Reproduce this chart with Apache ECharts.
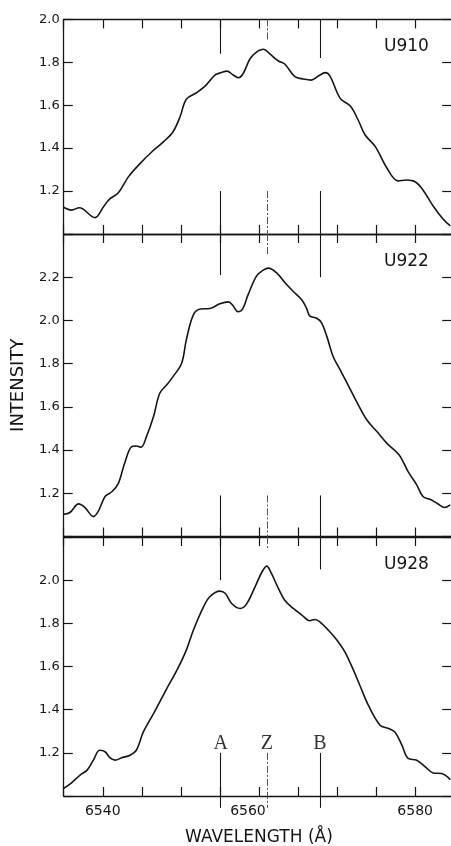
<!DOCTYPE html>
<html>
<head>
<meta charset="utf-8">
<script src="https://cdn.jsdelivr.net/npm/echarts@6/dist/echarts.min.js"></script>
<style>
html,body{margin:0;padding:0;background:#fff;}
#chart{width:451px;height:846px;}
</style>
</head>
<body>
<div id="chart"></div>
<script>
// ---- data ----
const panelNames = ['U910', 'U922', 'U928'];
const xTickLabels = [6540, 6560, 6580];

const lam910 = [6535.0, 6536.0, 6537.0, 6539.0, 6540.1, 6540.9, 6542.0, 6543.3, 6544.8, 6546.3, 6547.8, 6549.0, 6549.9, 6550.7, 6552.0, 6553.1, 6554.4, 6555.2, 6555.9, 6556.7, 6557.4, 6558.0, 6558.9, 6559.9, 6560.6, 6561.4, 6562.5, 6563.3, 6564.6, 6565.7, 6566.7, 6567.6, 6568.5, 6569.1, 6570.4, 6571.7, 6572.7, 6573.6, 6574.9, 6576.4, 6577.8, 6578.9, 6580.0, 6581.0, 6582.3, 6583.6, 6584.5];
const val910 = [1.124, 1.111, 1.122, 1.076, 1.127, 1.163, 1.192, 1.267, 1.329, 1.383, 1.430, 1.476, 1.546, 1.628, 1.658, 1.689, 1.741, 1.752, 1.759, 1.741, 1.728, 1.749, 1.819, 1.853, 1.861, 1.839, 1.806, 1.792, 1.733, 1.722, 1.717, 1.736, 1.752, 1.736, 1.632, 1.596, 1.531, 1.461, 1.407, 1.306, 1.247, 1.251, 1.243, 1.205, 1.130, 1.068, 1.037];

const lam922 = [6535.0, 6535.8, 6536.9, 6537.7, 6538.8, 6539.4, 6540.3, 6541.2, 6542.0, 6542.8, 6543.7, 6544.3, 6544.9, 6545.6, 6546.5, 6547.3, 6548.2, 6549.0, 6550.1, 6550.7, 6551.6, 6552.5, 6553.7, 6555.0, 6556.1, 6556.7, 6557.3, 6557.9, 6558.6, 6559.7, 6560.6, 6561.2, 6562.3, 6563.4, 6564.4, 6565.5, 6566.1, 6566.5, 6567.4, 6568.0, 6568.7, 6569.5, 6570.4, 6571.4, 6572.5, 6573.8, 6575.1, 6576.4, 6577.4, 6578.1, 6579.1, 6580.2, 6581.0, 6581.9, 6582.8, 6583.8, 6584.5];
const val922 = [1.103, 1.111, 1.151, 1.135, 1.092, 1.115, 1.185, 1.208, 1.246, 1.339, 1.416, 1.419, 1.413, 1.462, 1.555, 1.663, 1.702, 1.740, 1.802, 1.910, 2.026, 2.053, 2.055, 2.077, 2.086, 2.067, 2.040, 2.052, 2.118, 2.206, 2.234, 2.242, 2.219, 2.172, 2.134, 2.095, 2.056, 2.021, 2.010, 1.990, 1.925, 1.833, 1.771, 1.702, 1.624, 1.540, 1.486, 1.431, 1.398, 1.370, 1.300, 1.239, 1.185, 1.172, 1.154, 1.134, 1.146];

const lam928 = [6535.0, 6536.0, 6537.1, 6538.0, 6538.8, 6539.6, 6540.3, 6540.9, 6541.6, 6542.4, 6543.5, 6544.3, 6545.2, 6546.5, 6548.2, 6549.5, 6550.7, 6551.6, 6552.9, 6553.7, 6555.0, 6555.7, 6556.5, 6557.6, 6558.4, 6559.5, 6560.4, 6561.0, 6561.6, 6562.5, 6563.3, 6564.4, 6565.5, 6566.5, 6567.2, 6567.8, 6568.9, 6570.0, 6571.0, 6572.1, 6572.9, 6574.0, 6575.5, 6576.6, 6577.4, 6578.3, 6579.1, 6580.2, 6581.3, 6582.3, 6583.4, 6584.5];
const val928 = [1.035, 1.061, 1.097, 1.120, 1.166, 1.212, 1.205, 1.178, 1.166, 1.177, 1.189, 1.212, 1.297, 1.382, 1.498, 1.583, 1.676, 1.768, 1.876, 1.923, 1.949, 1.938, 1.892, 1.869, 1.889, 1.969, 2.039, 2.065, 2.031, 1.961, 1.907, 1.869, 1.838, 1.812, 1.818, 1.807, 1.768, 1.722, 1.668, 1.583, 1.514, 1.421, 1.328, 1.313, 1.297, 1.236, 1.174, 1.166, 1.135, 1.107, 1.104, 1.076];

// marker wavelengths A, Z, B
const markerNames = ['A', 'Z', 'B'];
const markerLam = [6555.1, 6561.0, 6567.8];
// per panel: y-range [min,max], upper segment lower ends, lower segment [top, bottom]
const yMin = [1.0, 1.0, 1.0];
const yMax = [2.0, 2.4, 2.2];
const upperSegEnd = [[1.84, 1.90, 1.82], [2.21, 2.30, 2.20], [2.00, 2.14, 2.05]];
const lowerSegTop = [[1.20, 1.20, 1.20], [1.19, 1.19, 1.19], [1.20, 1.20, 1.20]];
const lowerSegBottom = [[1.0, 1.0, 1.0], [1.0, 1.0, 1.0], [0.945, 0.945, 0.945]];
const letterLevel = 1.2;

// ---- layout ----
const FONT = 'DejaVu Sans';
const INK = '#161616';
const gridTops = [19.4, 234, 537];
const gridHeights = [214.5, 302.5, 259];
const gLeft = 63.7, gWidth = 390.5;

const chart = echarts.init(document.getElementById('chart'), null, {renderer: 'canvas'});

const grids = [], xAxes = [], yAxes = [], series = [];
const curves = [[lam910, val910], [lam922, val922], [lam928, val928]];

for (let p = 0; p < 3; p++) {
  grids.push({left: gLeft, width: gWidth, top: gridTops[p], height: gridHeights[p],
    containLabel: false, outerBoundsMode: 'none'});
  const axLine = {show: true, lineStyle: {color: INK, width: 1.3}};
  // bottom x axis
  xAxes.push({
    type: 'value', gridIndex: p, position: 'bottom', min: 6535, max: 6585, interval: 5,
    axisLine: axLine, axisTick: {show: true, inside: true, length: 9, lineStyle: {color: INK, width: 1.2}},
    splitLine: {show: false},
    axisLabel: {show: p === 2, color: INK, fontFamily: FONT, fontSize: 14, margin: 8,
      formatter: v => {
        const r = Math.round(v);
        if (xTickLabels.indexOf(r) < 0) return '';
        return r === 6560 ? '{s|' + r + '}' : String(r);
      },
      rich: {s: {color: INK, fontFamily: FONT, fontSize: 14, padding: [0, 22, 0, 0]}}},
    name: p === 2 ? 'WAVELENGTH (Å)' : '', nameLocation: 'middle', nameGap: 33,
    nameTextStyle: {color: INK, fontFamily: FONT, fontSize: 17}
  });
  // top x axis
  xAxes.push({
    type: 'value', gridIndex: p, position: 'top', min: 6535, max: 6585, interval: 5,
    axisLine: axLine, axisTick: {show: true, inside: true, length: 9, lineStyle: {color: INK, width: 1.2}},
    splitLine: {show: false}, axisLabel: {show: false}
  });
  const lo = yMin[p], hi = yMax[p];
  yAxes.push({
    type: 'value', gridIndex: p, position: 'left', min: lo, max: hi, interval: 0.2,
    axisLine: axLine, axisTick: {show: true, inside: true, length: 9, lineStyle: {color: INK, width: 1.2}},
    splitLine: {show: false},
    axisLabel: {color: INK, fontFamily: FONT, fontSize: 13, margin: 4,
      formatter: v => {
        const r = Math.round(v * 10) / 10;
        if (Math.abs(r - lo) < 1e-6) return '';
        if (Math.abs(r - hi) < 1e-6 && p !== 0) return '';
        return r.toFixed(1);
      }},
    name: p === 1 ? 'INTENSITY' : '', nameLocation: 'middle', nameGap: 36, nameRotate: 90,
    nameTextStyle: {color: INK, fontFamily: FONT, fontSize: 18}
  });
  yAxes.push({
    type: 'value', gridIndex: p, position: 'right', min: lo, max: hi, interval: 0.2,
    axisLine: axLine, axisTick: {show: true, inside: true, length: 12, lineStyle: {color: INK, width: 1.2}},
    splitLine: {show: false}, axisLabel: {show: false}
  });

  series.push({
    type: 'line', xAxisIndex: 2 * p, yAxisIndex: 2 * p, smooth: 0.35, symbol: 'none',
    lineStyle: {color: INK, width: 1.6}, animation: false,
    data: curves[p][0].map((x, i) => [x, curves[p][1][i]])
  });

  const segs = [];
  for (let m = 0; m < 3; m++) {
    const style = m === 1 ? {color: '#555', width: 1, type: [7, 2, 2, 2]} : {color: INK, width: 1.1, type: 'solid'};
    segs.push({coords: [[markerLam[m], hi], [markerLam[m], upperSegEnd[p][m]]], lineStyle: style});
    segs.push({coords: [[markerLam[m], lowerSegTop[p][m]], [markerLam[m], lowerSegBottom[p][m]]], lineStyle: style});
  }
  series.push({
    type: 'lines', coordinateSystem: 'cartesian2d', xAxisIndex: 2 * p, yAxisIndex: 2 * p,
    clip: false, silent: true, animation: false, symbol: 'none',
    lineStyle: {color: INK, width: 1.1, opacity: 1}, data: segs
  });
}

// letters A Z B in the bottom panel
series.push({
  type: 'scatter', xAxisIndex: 4, yAxisIndex: 4, symbolSize: 0, animation: false, silent: true,
  data: markerLam.map((x, i) => ({value: [x, letterLevel], name: markerNames[i]})),
  label: {show: true, position: 'top', distance: -1, formatter: d => d.name,
    color: '#000', fontFamily: 'Liberation Serif', fontSize: 20}
});

const graphics = panelNames.map((nm, p) => ({
  type: 'text', left: 384, top: gridTops[p] + 19,
  style: {text: nm, fill: INK, font: '17px "DejaVu Sans"'}
}));

chart.setOption({
  backgroundColor: '#fff',
  animation: false,
  grid: grids, xAxis: xAxes, yAxis: yAxes, series: series,
  graphic: graphics
});
</script>
</body>
</html>
